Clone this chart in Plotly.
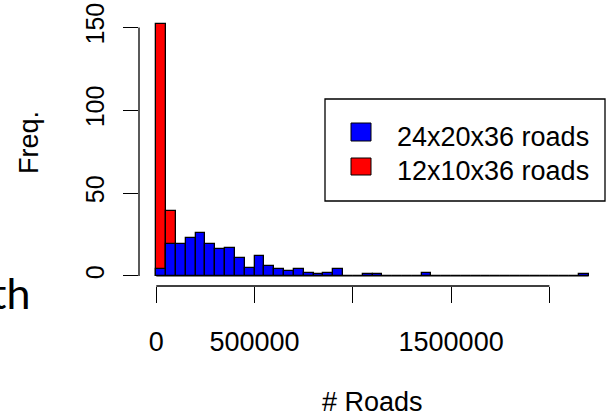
import plotly.graph_objects as go

# ---- data ----
bin_width = 50000
blue_counts = [4, 19, 19, 23, 26, 19, 16, 17, 11, 5, 12, 6, 4, 3, 4, 2, 1, 2, 4, 0,
               0, 1, 1, 0, 0, 0, 0, 2, 0, 0, 0, 0, 0, 0, 0, 0, 0, 0, 0, 0,
               0, 0, 0, 1]
red_counts = [152, 39]
blue_name = "24x20x36 roads"
red_name = "12x10x36 roads"
x_tick_vals = [0, 500000, 1000000, 1500000, 2000000]
x_tick_text = ["0", "500000", "", "1500000", ""]
y_tick_vals = [0, 50, 100, 150]
y_tick_text = ["0", "50", "100", "150"]
x_title = "# Roads"
y_title = "Freq."
side_text = "th"

W, H = 606, 420
ML, MR, MT, MB = 139, 0, 14, 134
PW, PH = W - ML - MR, H - MT - MB


def px_x(px):
    return (px - ML) / PW


def px_y(py):
    return (H - MB - py) / PH


def centers(counts):
    return [bin_width * (i + 0.5) for i in range(len(counts))]


edges_max = bin_width * len(blue_counts)
xpad = 0.04 * edges_max
ymax = max(max(blue_counts), max(red_counts))
ypad = 0.04 * ymax

FONT = "Liberation Sans, Arial, sans-serif"

fig = go.Figure()
fig.add_trace(go.Bar(x=centers(red_counts), y=red_counts, width=bin_width,
                     marker=dict(color="#ff0000", line=dict(color="black", width=1.3)),
                     name=red_name, showlegend=False, hoverinfo="skip"))
fig.add_trace(go.Bar(x=centers(blue_counts), y=blue_counts, width=bin_width,
                     marker=dict(color="#0000ff", line=dict(color="black", width=1.3)),
                     name=blue_name, showlegend=False, hoverinfo="skip"))

shapes = []
# histogram baseline (zero-height bins)
shapes.append(dict(type="line", xref="x", yref="y", x0=0, x1=edges_max, y0=0, y1=0,
                   line=dict(color="black", width=1.3), layer="above"))
# R-style axis lines spanning tick range
shapes.append(dict(type="line", xref="x", yref="paper", x0=x_tick_vals[0], x1=x_tick_vals[-1],
                   y0=0, y1=0, line=dict(color="black", width=1.3)))
shapes.append(dict(type="line", xref="paper", yref="y", x0=0, x1=0,
                   y0=y_tick_vals[0], y1=y_tick_vals[-1], line=dict(color="black", width=1.3)))
# legend box
shapes.append(dict(type="rect", xref="paper", yref="paper",
                   x0=px_x(325), x1=px_x(605), y0=px_y(201), y1=px_y(99),
                   line=dict(color="black", width=1.3), fillcolor="white"))
shapes.append(dict(type="rect", xref="paper", yref="paper",
                   x0=px_x(351), x1=px_x(371), y0=px_y(141), y1=px_y(123),
                   line=dict(color="black", width=1), fillcolor="#0000ff"))
shapes.append(dict(type="rect", xref="paper", yref="paper",
                   x0=px_x(351), x1=px_x(371), y0=px_y(175), y1=px_y(158),
                   line=dict(color="black", width=1), fillcolor="#ff0000"))

annotations = [
    dict(text=blue_name, xref="paper", yref="paper", x=px_x(395), y=px_y(137),
         xanchor="left", yanchor="middle", showarrow=False,
         font=dict(family=FONT, size=27, color="black")),
    dict(text=red_name, xref="paper", yref="paper", x=px_x(395), y=px_y(171),
         xanchor="left", yanchor="middle", showarrow=False,
         font=dict(family=FONT, size=27, color="black")),
    dict(text=x_title, xref="paper", yref="paper", x=px_x(372.5), y=px_y(402),
         xanchor="center", yanchor="middle", showarrow=False,
         font=dict(family=FONT, size=27, color="black")),
    dict(text=y_title, xref="paper", yref="paper", x=px_x(29), y=px_y(143),
         xanchor="center", yanchor="middle", textangle=-90, showarrow=False,
         font=dict(family=FONT, size=27, color="black")),
    dict(text=side_text, xref="paper", yref="paper", x=px_x(32), y=px_y(292),
         xanchor="right", yanchor="middle", showarrow=False,
         font=dict(family="Lato, Open Sans, sans-serif", size=43, color="black")),
]

fig.update_layout(
    width=W, height=H,
    margin=dict(l=ML, r=MR, t=MT, b=MB),
    paper_bgcolor="white", plot_bgcolor="white",
    barmode="overlay", bargap=0,
    showlegend=False,
    shapes=shapes,
    annotations=annotations,
    xaxis=dict(range=[-xpad, edges_max + xpad], showgrid=False, zeroline=False,
               showline=False, tickmode="array", tickvals=x_tick_vals, ticktext=x_tick_text,
               ticks="outside", ticklen=16, tickwidth=1.3, tickcolor="black",
               ticklabelstandoff=16,
               tickfont=dict(family=FONT, size=27, color="black")),
    yaxis=dict(range=[-ypad, ymax + ypad], showgrid=False, zeroline=False,
               showline=False, tickmode="array", tickvals=y_tick_vals, ticktext=y_tick_text,
               ticks="outside", ticklen=15, tickwidth=1.3, tickcolor="black",
               tickangle=-90, ticklabelstandoff=9,
               tickfont=dict(family=FONT, size=25, color="black")),
)

fig.write_html("out.html", config={"displayModeBar": False},
               post_script="document.body.style.margin='0px';document.body.style.overflow='hidden';")
